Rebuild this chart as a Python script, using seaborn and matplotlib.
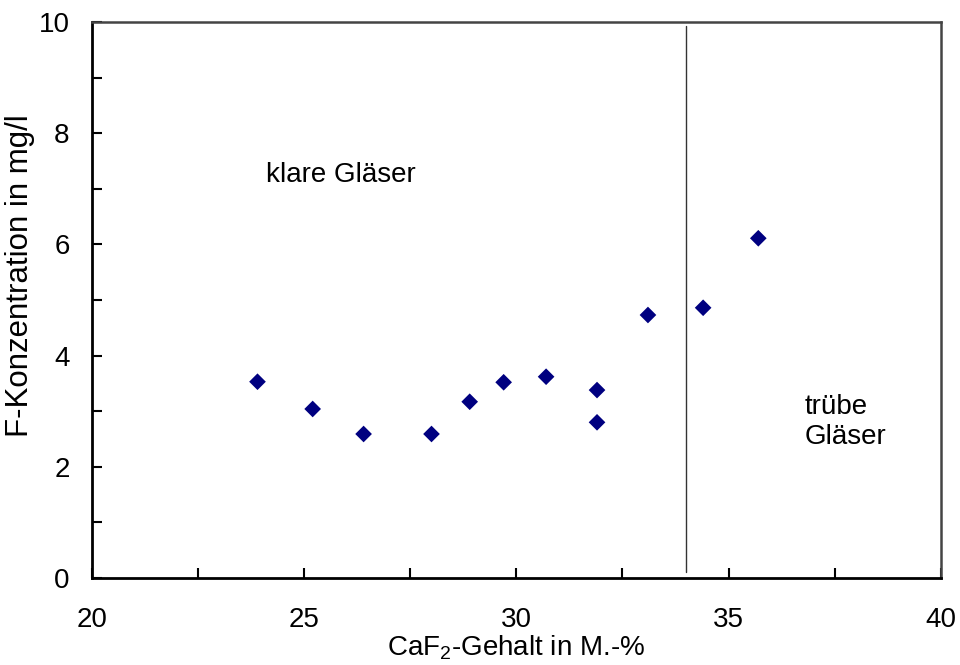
import matplotlib
matplotlib.use("Agg")
import matplotlib.pyplot as plt
import seaborn as sns
import pandas as pd
import numpy as np

# Data
caf2 = [23.9, 25.2, 26.4, 28.0, 28.9, 29.7, 30.7, 31.9, 31.9, 33.1, 34.4, 35.7]
f_conc = [3.53, 3.04, 2.59, 2.59, 3.17, 3.52, 3.62, 3.38, 2.80, 4.73, 4.86, 6.11]
boundary_x = 34.0
x_ticks = [20, 25, 30, 35, 40]
y_ticks = [0, 2, 4, 6, 8, 10]

sns.set_theme(style="white")
plt.rcParams['font.family'] = ['Liberation Sans', 'DejaVu Sans']
plt.rcParams['mathtext.fontset'] = 'custom'
plt.rcParams['mathtext.rm'] = 'Liberation Sans'
plt.rcParams['mathtext.it'] = 'Liberation Sans'
plt.rcParams['text.color'] = 'black'
plt.rcParams['axes.labelcolor'] = 'black'
plt.rcParams['xtick.color'] = 'black'
plt.rcParams['ytick.color'] = 'black'

df = pd.DataFrame({"x": caf2, "y": f_conc})

fig = plt.figure(figsize=(9.6, 6.65), dpi=100)
ax = fig.add_axes([0.0958, 0.1308, 0.8842, 0.8362])

sns.scatterplot(data=df, x="x", y="y", marker="D", color="#000080",
                s=72, edgecolor="none", ax=ax, legend=False)

ax.plot([boundary_x, boundary_x], [0.11, 9.92], color="#333333", lw=1.0)

ax.set_xlim(20, 40)
ax.set_ylim(0, 10)
ax.set_xticks(x_ticks)
ax.set_xticks(np.arange(20, 40.01, 2.5), minor=True)
ax.set_yticks(y_ticks)
ax.set_yticks(np.arange(0, 10.01, 1), minor=True)
ax.set_xticklabels([str(t) for t in x_ticks])
ax.set_yticklabels([str(t) for t in y_ticks])

ax.tick_params(axis='x', which='both', direction='in', length=7, width=1.5,
               color='black', labelcolor='black', labelsize=20, pad=21, bottom=True)
ax.tick_params(axis='y', which='both', direction='in', length=7, width=1.5,
               color='black', labelcolor='black', labelsize=20, pad=16, left=True)

for side in ['left', 'bottom']:
    ax.spines[side].set_color('black')
    ax.spines[side].set_linewidth(2.0)
for side in ['top', 'right']:
    ax.spines[side].set_color('#444444')
    ax.spines[side].set_linewidth(1.8)

ax.set_xlabel("CaF$_2$-Gehalt in M.-%", fontsize=20, labelpad=0, color='black')
ax.set_ylabel("F-Konzentration in mg/l", fontsize=22.5, color='black')
ax.yaxis.set_label_coords(-0.067, 0.543)

ax.text(24.1, 7.24, "klare Gläser", fontsize=20, va='center', ha='left', color='black')
ax.text(36.8, 2.81, "trübe\nGläser", fontsize=20, va='center', ha='left',
        linespacing=1.2, color='black')

fig.savefig("out.png", dpi=100)
